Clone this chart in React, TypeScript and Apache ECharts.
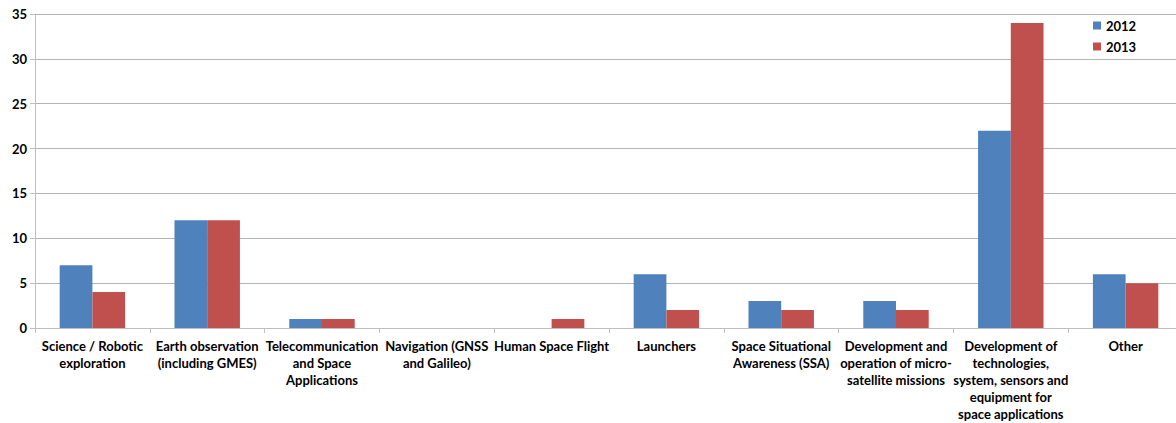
import React, { useEffect, useRef } from "react";
import * as echarts from "echarts";

const categories = [
  "Science / Robotic\nexploration",
  "Earth observation\n(including GMES)",
  "Telecommunication\nand Space\nApplications",
  "Navigation (GNSS\nand Galileo)",
  "Human Space Flight",
  "Launchers",
  "Space Situational\nAwareness (SSA)",
  "Development and\noperation of micro-\nsatellite missions",
  "Development of\ntechnologies,\nsystem, sensors and\nequipment for\nspace applications",
  "Other",
];
const values2012 = [7, 12, 1, 0, 0, 6, 3, 3, 22, 6];
const values2013 = [4, 12, 1, 0, 1, 2, 2, 2, 34, 5];
const seriesNames = ["2012", "2013"];

const FONT = "Lato, 'Open Sans', sans-serif";

export default function App() {
  const ref = useRef<HTMLDivElement>(null);
  useEffect(() => {
    document.body.style.margin = "0";
    const chart = echarts.init(ref.current!, undefined, { renderer: "svg" });
    chart.setOption({
      animation: false,
      backgroundColor: "#ffffff",
      grid: { left: 35, right: -7, top: 14, bottom: 95, containLabel: false, outerBoundsMode: "none" },
      legend: {
        orient: "vertical",
        left: 1088,
        top: 14,
        itemWidth: 8,
        itemHeight: 8,
        itemGap: 8,
        icon: "rect",
        textStyle: { fontFamily: FONT, fontWeight: "bold", fontSize: 13, color: "#000" },
        data: seriesNames,
      },
      xAxis: {
        type: "category",
        data: categories,
        axisLine: { lineStyle: { color: "#bfbfbf", width: 1 } },
        axisTick: { show: true, alignWithLabel: false, length: 5, lineStyle: { color: "#bfbfbf" } },
        axisLabel: {
          interval: 0,
          margin: 9,
          fontFamily: FONT,
          fontWeight: "bold",
          fontSize: 13,
          lineHeight: 17,
          color: "#000",
        },
      },
      yAxis: {
        type: "value",
        min: 0,
        max: 35,
        interval: 5,
        axisLine: { show: true, lineStyle: { color: "#bfbfbf", width: 1 } },
        axisTick: { show: true, length: 5, lineStyle: { color: "#bfbfbf" } },
        axisLabel: {
          margin: 8,
          fontFamily: FONT,
          fontWeight: "bold",
          fontSize: 13,
          color: "#000",
        },
        splitLine: { lineStyle: { color: "#b3b3b3", width: 1 } },
      },
      series: [
        {
          name: seriesNames[0],
          type: "bar",
          data: values2012,
          barGap: "0%",
          barCategoryGap: "43%",
          itemStyle: { color: "#4f81bd" },
        },
        {
          name: seriesNames[1],
          type: "bar",
          data: values2013,
          barGap: "0%",
          barCategoryGap: "43%",
          itemStyle: { color: "#c0504d" },
        },
      ],
    });
    return () => chart.dispose();
  }, []);
  return <div ref={ref} style={{ width: 1176, height: 423 }} />;
}
